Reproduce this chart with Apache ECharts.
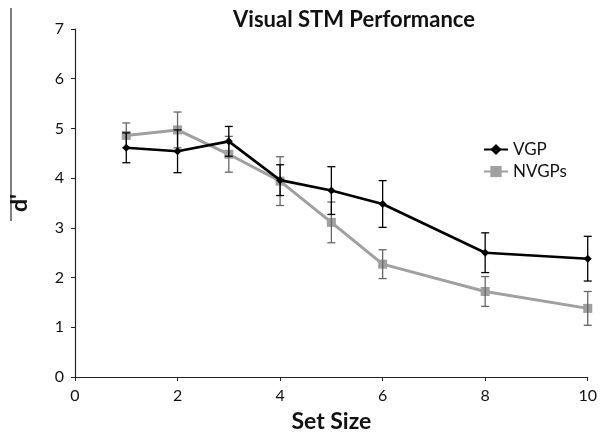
<!DOCTYPE html>
<html>
<head>
<meta charset="utf-8">
<script src="https://cdn.jsdelivr.net/npm/echarts@6/dist/echarts.min.js"></script>
<style>html,body{margin:0;padding:0;background:#fff;}#c{width:600px;height:438px;}</style>
</head>
<body>
<div id="c"></div>
<script>
var titleText = "Visual STM Performance";
var xName = "Set Size";
var yName = "d'";
var seriesNames = ["VGP", "NVGPs"];
var setSizes = [1, 2, 3, 4, 5, 6, 8, 10];
var vgp = [4.61, 4.54, 4.74, 3.96, 3.75, 3.48, 2.50, 2.38];
var vgpErr = [0.30, 0.43, 0.30, 0.31, 0.48, 0.47, 0.40, 0.45];
var nvgp = [4.86, 4.97, 4.48, 3.94, 3.11, 2.27, 1.72, 1.38];
var nvgpErr = [0.25, 0.36, 0.36, 0.49, 0.41, 0.29, 0.30, 0.34];

var FONT = "Lato";
function pts(vals) { return setSizes.map(function (x, i) { return [x, vals[i]]; }); }
function errs(vals, e) { return setSizes.map(function (x, i) { return [x, vals[i] - e[i], vals[i] + e[i]]; }); }
function errRender(color) {
  return function (params, api) {
    var x = api.value(0);
    var lo = api.coord([x, api.value(1)]);
    var hi = api.coord([x, api.value(2)]);
    var w = 4;
    var st = { stroke: color, lineWidth: 1.3 };
    return {
      type: 'group',
      children: [
        { type: 'line', shape: { x1: lo[0], y1: lo[1], x2: hi[0], y2: hi[1] }, style: st },
        { type: 'line', shape: { x1: lo[0] - w, y1: lo[1], x2: lo[0] + w, y2: lo[1] }, style: st },
        { type: 'line', shape: { x1: hi[0] - w, y1: hi[1], x2: hi[0] + w, y2: hi[1] }, style: st }
      ]
    };
  };
}

var chart = echarts.init(document.getElementById('c'), null, { renderer: 'canvas' });
chart.setOption({
  animation: false,
  backgroundColor: '#fff',
  title: {
    text: titleText, left: 349, top: 4, textAlign: 'center',
    textStyle: { fontFamily: FONT, fontWeight: 'bold', fontSize: 22, color: '#111' }
  },
  graphic: [{
    type: 'line', shape: { x1: 11, y1: 8, x2: 11, y2: 221 },
    style: { stroke: '#555', lineWidth: 1.5 }
  }],
  legend: {
    orient: 'vertical', left: 478, top: 136, itemGap: 5, itemWidth: 24, itemHeight: 14,
    textStyle: { fontFamily: FONT, fontSize: 17, color: '#111' },
    data: seriesNames
  },
  grid: { left: 68, right: 9, top: 29, bottom: 59, containLabel: false },
  xAxis: {
    type: 'value', min: 0, max: 10, interval: 2,
    name: xName, nameLocation: 'middle', nameGap: 33,
    nameTextStyle: { fontFamily: FONT, fontWeight: 'bold', fontSize: 23, color: '#111' },
    axisLine: { lineStyle: { color: '#222', width: 1.2 } },
    axisTick: { length: 4, lineStyle: { color: '#222' } },
    axisLabel: { fontFamily: FONT, fontSize: 16, color: '#111', margin: 11 },
    splitLine: { show: false }
  },
  yAxis: {
    type: 'value', min: 0, max: 7, interval: 1,
    name: yName, nameLocation: 'middle', nameGap: 44, nameRotate: 90,
    nameTextStyle: { fontFamily: FONT, fontWeight: 'bold', fontSize: 23, color: '#111' },
    axisLine: { show: true, lineStyle: { color: '#222', width: 1.2 } },
    axisTick: { show: true, length: 4, lineStyle: { color: '#222' } },
    axisLabel: { fontFamily: FONT, fontSize: 16, color: '#111', margin: 11 },
    splitLine: { show: false }
  },
  series: [
    {
      name: seriesNames[1], type: 'line', data: pts(nvgp), z: 2,
      symbol: 'rect', symbolSize: 9,
      lineStyle: { color: '#a0a0a0', width: 3 },
      itemStyle: { color: '#a0a0a0' }
    },
    {
      type: 'custom', data: errs(nvgp, nvgpErr), z: 3,
      renderItem: errRender('#666'), encode: { x: 0, y: [1, 2] }
    },
    {
      name: seriesNames[0], type: 'line', data: pts(vgp), z: 4,
      symbol: 'diamond', symbolSize: 8,
      lineStyle: { color: '#000', width: 2.6 },
      itemStyle: { color: '#000' }
    },
    {
      type: 'custom', data: errs(vgp, vgpErr), z: 5,
      renderItem: errRender('#000'), encode: { x: 0, y: [1, 2] }
    }
  ]
});
</script>
</body>
</html>
